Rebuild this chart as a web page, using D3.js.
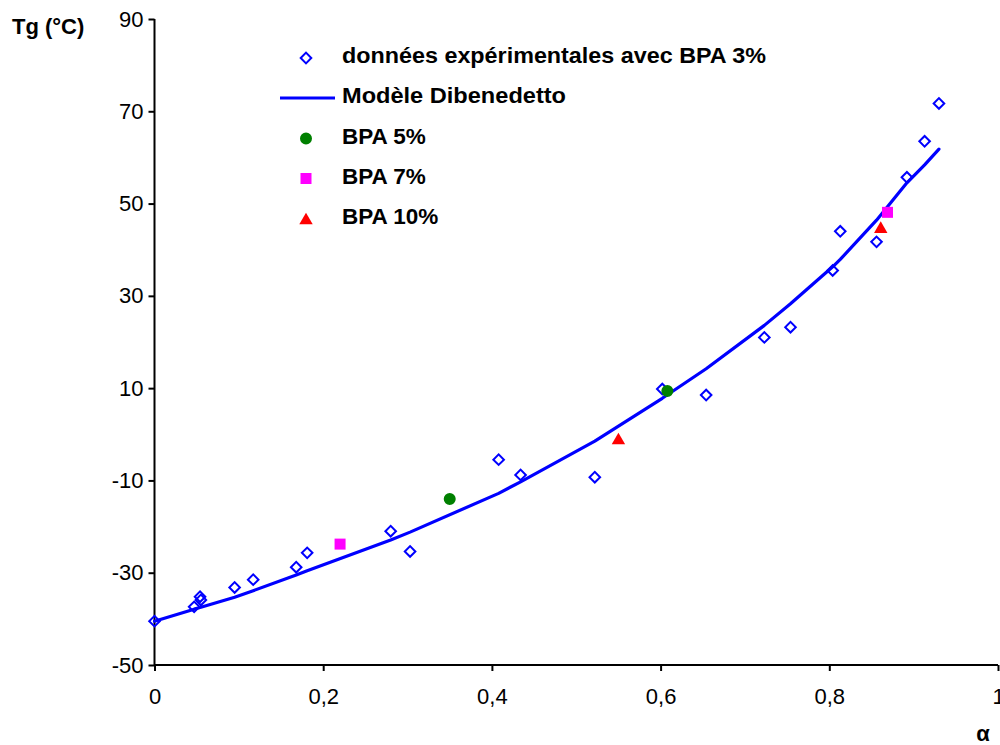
<!DOCTYPE html>
<html>
<head>
<meta charset="utf-8">
<script src="https://cdn.jsdelivr.net/npm/d3@7"></script>
<style>
  html, body { margin: 0; padding: 0; background: #fff; }
  svg { display: block; }
  text { font-family: "Liberation Sans", Arial, sans-serif; }
</style>
</head>
<body>
<div id="chart"></div>
<script>
// ---- Data ----
const xTicks = [0, 0.2, 0.4, 0.6, 0.8, 1];
const xTickLabels = ["0", "0,2", "0,4", "0,6", "0,8", "1"];
const yTicks = [-50, -30, -10, 10, 30, 50, 70, 90];
const yTickLabels = ["-50", "-30", "-10", "10", "30", "50", "70", "90"];

const expX = [0, 0.047, 0.054, 0.055, 0.095, 0.117, 0.168, 0.181, 0.280, 0.303, 0.408, 0.434, 0.522, 0.602, 0.654, 0.723, 0.754, 0.804, 0.813, 0.856, 0.892, 0.913, 0.930];
const expY = [-40.5, -37.4, -35.2, -35.9, -33.2, -31.5, -28.8, -25.7, -21.0, -25.4, -5.5, -8.8, -9.3, 9.8, 8.5, 21.0, 23.2, 35.5, 44.0, 41.7, 55.7, 63.5, 71.7];

const modelX = [0, 0.047, 0.055, 0.095, 0.117, 0.168, 0.181, 0.280, 0.303, 0.408, 0.434, 0.522, 0.602, 0.654, 0.723, 0.754, 0.804, 0.813, 0.856, 0.892, 0.913, 0.930];
const modelY = [-40.5, -37.9, -37.5, -35.3, -33.9, -30.5, -29.6, -22.9, -21.2, -12.8, -10.3, -1.5, 7.8, 14.2, 23.6, 28.3, 36.3, 37.9, 46.4, 54.5, 58.4, 61.8];

const bpa5X = [0.350, 0.608];
const bpa5Y = [-14.0, 9.4];
const bpa7X = [0.220, 0.869];
const bpa7Y = [-23.8, 48.1];
const bpa10X = [0.550, 0.861];
const bpa10Y = [-1.0, 44.8];

const legendLabels = ["données expérimentales avec BPA 3%", "Modèle Dibenedetto", "BPA 5%", "BPA 7%", "BPA 10%"];

// ---- Layout ----
const W = 1000, H = 745;
const svg = d3.select("#chart").append("svg").attr("width", W).attr("height", H);

const x = d3.scaleLinear().domain([0, 1]).range([154.5, 998]);
const y = d3.scaleLinear().domain([-50, 90]).range([665, 19]);

const BLUE = "#0000FF", GREEN = "#008000", MAGENTA = "#FF00FF", RED = "#FF0000";

// Axes
const xAxis = d3.axisBottom(x).tickValues(xTicks)
  .tickFormat((d, i) => xTickLabels[i]).tickSize(6).tickPadding(17);
const yAxis = d3.axisLeft(y).tickValues(yTicks)
  .tickFormat((d, i) => yTickLabels[i]).tickSize(6).tickPadding(5);

const gx = svg.append("g").attr("transform", `translate(0,${y(-50)})`).call(xAxis);
const gy = svg.append("g").attr("transform", `translate(${x(0)},0)`).call(yAxis);
[gx, gy].forEach(g => {
  g.select(".domain").attr("stroke", "#000").attr("stroke-width", 2);
  g.selectAll(".tick line").attr("stroke", "#000").attr("stroke-width", 2);
  g.selectAll(".tick text").attr("fill", "#000")
    .style("font-family", "'Liberation Sans', Arial, sans-serif").style("font-size", "22px");
});
gx.select(".domain").attr("d", `M${x(0)},0H${x(1)}`);
gy.select(".domain").attr("d", `M0,${y(90)}V${y(-50)}`);

// Axis titles
svg.append("text").attr("x", 12).attr("y", 34).text("Tg (°C)")
  .style("font-size", "22px").style("font-weight", "bold").attr("fill", "#000");
svg.append("text").attr("x", 983).attr("y", 741).attr("text-anchor", "middle").text("α")
  .style("font-size", "22px").style("font-weight", "bold").attr("fill", "#000");

// Model line
const line = d3.line().x(d => x(d[0])).y(d => y(d[1]));
svg.append("path").datum(modelX.map((v, i) => [v, modelY[i]]))
  .attr("d", line).attr("fill", "none").attr("stroke", BLUE)
  .attr("stroke-width", 3.2).attr("stroke-linejoin", "round").attr("stroke-linecap", "round");

// Symbols
const diamondPath = d3.symbol().type(d3.symbolSquare).size(56)();
const circlePath = d3.symbol().type(d3.symbolCircle).size(113)();
const squarePath = d3.symbol().type(d3.symbolSquare).size(121)();
const trianglePath = d3.symbol().type(d3.symbolTriangle).size(78)();

svg.append("g").selectAll("path").data(expX.map((v, i) => [v, expY[i]])).join("path")
  .attr("d", diamondPath)
  .attr("transform", d => `translate(${x(d[0])},${y(d[1])}) rotate(45)`)
  .attr("fill", "none").attr("stroke", BLUE).attr("stroke-width", 2);

svg.append("g").selectAll("path").data(bpa5X.map((v, i) => [v, bpa5Y[i]])).join("path")
  .attr("d", circlePath)
  .attr("transform", d => `translate(${x(d[0])},${y(d[1])})`)
  .attr("fill", GREEN);

svg.append("g").selectAll("path").data(bpa7X.map((v, i) => [v, bpa7Y[i]])).join("path")
  .attr("d", squarePath)
  .attr("transform", d => `translate(${x(d[0])},${y(d[1])})`)
  .attr("fill", MAGENTA);

svg.append("g").selectAll("path").data(bpa10X.map((v, i) => [v, bpa10Y[i]])).join("path")
  .attr("d", trianglePath)
  .attr("transform", d => `translate(${x(d[0])},${y(d[1]) + 1.5})`)
  .attr("fill", RED);

// Legend
const legend = svg.append("g");
const rowY = [58, 98, 138.5, 178.5, 219];
const rowWidths = [424, 224, null, null, null];
const symX = 306;
legend.append("path").attr("d", diamondPath)
  .attr("transform", `translate(${symX},${rowY[0]}) rotate(45)`)
  .attr("fill", "none").attr("stroke", BLUE).attr("stroke-width", 2);
legend.append("line").attr("x1", 280).attr("x2", 335).attr("y1", rowY[1]).attr("y2", rowY[1])
  .attr("stroke", BLUE).attr("stroke-width", 3.2);
legend.append("path").attr("d", circlePath)
  .attr("transform", `translate(${symX},${rowY[2]})`).attr("fill", GREEN);
legend.append("path").attr("d", squarePath)
  .attr("transform", `translate(${symX},${rowY[3]})`).attr("fill", MAGENTA);
legend.append("path").attr("d", trianglePath)
  .attr("transform", `translate(${symX},${rowY[4] + 1.5})`).attr("fill", RED);

legend.selectAll("text").data(legendLabels).join("text")
  .attr("x", 342).attr("y", (d, i) => rowY[i] + 5)
  .attr("textLength", (d, i) => rowWidths[i])
  .attr("lengthAdjust", "spacingAndGlyphs")
  .text(d => d)
  .style("font-size", "22.5px").style("font-weight", "bold").attr("fill", "#000");
</script>
</body>
</html>
